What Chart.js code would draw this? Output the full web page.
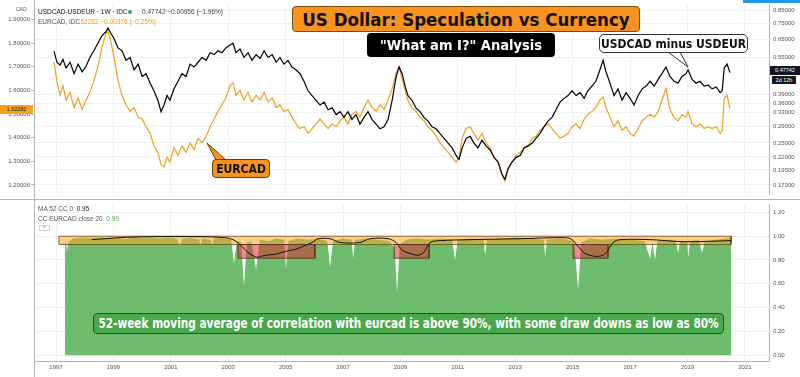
<!DOCTYPE html>
<html>
<head>
<meta charset="utf-8">
<script src="https://cdn.jsdelivr.net/npm/chart.js@4.4.0/dist/chart.umd.min.js"></script>
<style>
body { margin: 0; width: 800px; height: 377px; background: #fff; position: relative; overflow: hidden; font-family: "Liberation Sans", Arial, sans-serif; }
canvas { position: absolute; left: 0; }
#topChart { top: 0; }
#bottomChart { top: 200px; }
.abs { position: absolute; white-space: nowrap; }
.legend { font-size: 6.5px; color: #131722; }
.box { position: absolute; box-sizing: border-box; display: flex; align-items: center; justify-content: center; white-space: nowrap; font-family: "DejaVu Sans Condensed", "DejaVu Sans", sans-serif; font-stretch: condensed; font-weight: bold; overflow: hidden; }
.price { position: absolute; font-size: 5.5px; text-align: center; line-height: 9px; }
#note span { display: inline-block; transform-origin: center; }
</style>
</head>
<body>
<canvas id="topChart" width="800" height="199"></canvas>
<canvas id="bottomChart" width="800" height="177"></canvas>

<div class="abs" style="left:0;top:199px;width:800px;height:1px;background:#b2b5be"></div>
<div class="abs" style="left:34px;top:0;width:1px;height:377px;background:#b2b5be"></div>
<div class="abs" style="left:743px;top:0;width:57px;height:3px;background:#2196f3"></div>

<div class="abs legend" style="left:16px;top:6px;font-size:5px;color:#555">CAD</div>
<div class="abs legend" style="left:38px;top:8px">USDCAD-USDEUR · 1W · IDC</div>
<div class="abs" style="left:128px;top:10px;width:4px;height:4px;border-radius:2px;background:#26a69a"></div>
<div class="abs legend" style="left:142px;top:8px;color:#444">0.47742 −0.00956 (−1.96%)</div>
<div class="abs legend" style="left:38px;top:18px;color:#555">EURCAD, IDC</div>
<div class="abs legend" style="left:75px;top:18px;color:#f39c12">1.52282 −0.00376 (−0.25%)</div>

<div class="abs legend" style="left:38px;top:205px;color:#555">MA 52 CC 0 <span style="color:#131722">&nbsp;0.95</span></div>
<div class="abs legend" style="left:38px;top:215px;color:#555">CC EURCAD close 20 <span style="color:#4caf50">&nbsp;0.99</span></div>
<div class="abs" style="left:39px;top:225px;width:11px;height:6px;border:1px solid #d1d4dc;box-sizing:border-box;font-size:5px;line-height:5px;text-align:center;color:#555">^</div>

<div class="price" style="left:0;top:105px;width:33px;background:#f7a21b;color:#222">1.52282</div>
<div class="price" style="left:770px;top:66px;width:30px;background:#131722;color:#fff">0.47742</div>
<div class="price" style="left:772px;top:76px;width:24px;background:#131722;color:#fff;line-height:8px">2d 12h</div>

<svg class="abs" style="left:0;top:0" width="800" height="377">
  <polygon points="668,52 688,67 680,52" fill="#fff" stroke="#333" stroke-width="1"/>
  <polygon points="216,160 207,143 226,160" fill="#f7931e" stroke="#6b4200" stroke-width="1"/>
</svg>

<div class="box" style="left:292px;top:6px;width:348px;height:26px;background:#f7931e;border:1px solid #7a4a00;border-radius:4px;font-size:18.5px;color:#111">US Dollar: Speculation vs Currency</div>
<div class="box" style="left:367px;top:33px;width:188px;height:24px;background:#000;border-radius:4px;font-size:14.5px;color:#fff">"What am I?" Analysis</div>
<div class="box" style="left:599px;top:34px;width:149px;height:19px;background:#fff;border:1px solid #333;border-radius:5px;font-size:12px;color:#111">USDCAD minus USDEUR</div>
<div class="box" style="left:212px;top:159px;width:58px;height:19px;background:#f7931e;border:1px solid #6b4200;border-radius:4px;font-size:12px;color:#111">EURCAD</div>
<div class="box" id="note" style="left:93px;top:313px;width:631px;height:21px;background:#4aa84c;border:1px solid #1e5a20;border-radius:4px;font-size:13px;color:#fff"><span>52-week moving average of correlation with eurcad is above 90%, with some draw downs as low as 80%</span></div>

<script>
// x axis is in decimal years
const X_MIN = 1996.233;
const X_MAX = 2021.84;
const yearTicks = [1997, 1999, 2001, 2003, 2005, 2007, 2009, 2011, 2013, 2015, 2017, 2019, 2021];

const cadTicks = [1.2, 1.3, 1.4, 1.5, 1.6, 1.7, 1.8, 1.9];
const spreadTicks = [0.17, 0.195, 0.22, 0.25, 0.29, 0.33, 0.36, 0.39, 0.55, 0.65, 0.75, 0.85];
const corrTicks = [0, 0.2, 0.4, 0.6, 0.8, 1.0, 1.2];

// sample dates shared by both price series
const priceDates = [1996.93,1997.03,1997.14,1997.24,1997.35,1997.49,1997.63,1997.77,1997.91,1998.05,1998.18,1998.32,1998.46,1998.60,1998.74,
    1998.81,1998.92,1999.02,
    1999.16,1999.30,1999.44,1999.58,1999.72,1999.86,2000.00,2000.14,2000.28,2000.41,2000.55,
    2000.66,2000.76,2000.87,
    2000.97,2001.11,2001.25,2001.39,2001.53,2001.67,2001.81,2001.95,2002.09,2002.23,2002.37,2002.51,2002.64,2002.78,2002.92,2003.06,
    2003.17,
    2003.27,2003.41,2003.55,2003.69,2003.83,2003.97,2004.11,2004.25,2004.39,2004.53,2004.67,2004.80,2004.94,2005.08,2005.22,2005.36,2005.50,2005.64,2005.78,2005.92,2006.06,2006.20,2006.34,2006.48,2006.62,2006.76,2006.90,2007.03,2007.17,2007.31,2007.45,2007.59,2007.73,2007.87,2008.01,2008.15,2008.29,2008.43,2008.57,2008.71,2008.85,
    2008.95,2009.06,2009.16,
    2009.26,2009.40,2009.54,2009.68,2009.82,2009.96,2010.10,2010.24,2010.38,2010.52,2010.66,2010.80,2010.94,
    2011.04,
    2011.15,2011.29,2011.43,2011.56,2011.70,2011.84,2011.98,2012.12,2012.26,2012.40,2012.54,
    2012.64,
    2012.75,2012.89,2013.03,2013.17,2013.31,2013.45,2013.59,2013.72,2013.86,2014.00,2014.14,2014.28,2014.42,2014.56,2014.70,2014.84,2014.98,2015.12,2015.26,2015.40,2015.53,2015.67,2015.81,2015.95,
    2016.06,
    2016.16,2016.30,2016.44,2016.58,2016.72,2016.86,2017.00,2017.14,2017.28,2017.42,2017.56,2017.70,2017.84,2017.98,2018.11,2018.25,2018.39,2018.53,2018.67,2018.81,2018.95,
    2019.02,
    2019.16,2019.30,2019.44,2019.58,2019.72,2019.86,2020.00,2020.14,
    2020.21,2020.28,2020.38,2020.48];

// USDCAD-USDEUR (right, log scale)
const spreadValues = [0.5840,0.5255,0.5120,0.5397,0.4987,0.5255,0.4732,0.5165,0.4816,0.5075,0.5491,0.5840,0.6262,0.6717,0.6958,
    0.7205,0.6836,0.6543,
    0.5994,0.5840,0.5349,0.5491,0.4902,0.5165,0.4609,0.4732,0.4335,0.4042,0.3703,
    0.3334,0.3544,0.3869,
    0.3703,0.4114,0.4411,0.4732,0.4609,0.5165,0.5030,0.5255,0.5491,0.5349,0.5737,0.5638,0.5840,0.5737,0.5994,0.6155,
    0.6262,
    0.5737,0.5943,0.5491,0.5737,0.5349,0.5638,0.5444,0.5840,0.5491,0.5638,0.5255,0.5491,0.5165,0.5349,0.5030,0.4902,0.4732,0.4411,0.4042,0.3869,0.3703,0.3544,0.3639,0.3392,0.3453,0.3247,0.3334,0.3164,0.3334,0.3108,0.3247,0.2975,0.3164,0.3334,0.3108,0.2975,0.2848,0.2899,0.3108,0.3703,0.4609,
    0.5030,0.4732,0.4222,
    0.3869,0.3703,0.3453,0.3334,0.3164,0.3055,0.2899,0.2848,0.2726,0.2609,0.2497,0.2390,0.2229,
    0.2151,
    0.2390,0.2609,0.2656,0.2497,0.2390,0.2564,0.2433,0.2349,0.2190,0.2097,0.1870,
    0.1791,
    0.1971,0.2097,0.2190,0.2229,0.2390,0.2433,0.2497,0.2609,0.2726,0.2899,0.3055,0.3164,0.3392,0.3639,0.3769,0.3869,0.4042,0.3869,0.3973,0.3769,0.4042,0.4222,0.4411,0.4902,
    0.5349,
    0.4816,0.4335,0.3869,0.4114,0.3703,0.3973,0.3769,0.3544,0.3869,0.4114,0.4222,0.4411,0.4222,0.4490,0.4732,0.5030,0.4609,0.4411,0.4335,0.4609,0.4732,
    0.4902,
    0.4490,0.4335,0.4411,0.4222,0.4260,0.4114,0.4186,0.3973,
    0.4042,0.4987,0.5165,0.47742];

// EURCAD (left scale)
const eurcadValues = [1.7211,1.6403,1.5797,1.6201,1.5595,1.5918,1.5272,1.5676,1.5191,1.5595,1.5918,1.6403,1.7009,1.7817,1.8422,
    1.8503,1.8019,1.7413,
    1.6403,1.5797,1.5393,1.5111,1.5272,1.4868,1.4787,1.4464,1.4182,1.3657,1.3374,
    1.2849,1.2768,1.3172,
    1.2970,1.3576,1.3253,1.3657,1.3374,1.3778,1.3495,1.3980,1.3778,1.4061,1.4464,1.4787,1.5111,1.5393,1.5676,1.6201,
    1.6322,
    1.5797,1.6000,1.5595,1.5918,1.5514,1.5797,1.5595,1.5918,1.5514,1.5676,1.5272,1.5393,1.5111,1.5191,1.4868,1.4585,1.4384,1.4464,1.4182,1.4384,1.4585,1.4787,1.4585,1.4384,1.4585,1.4464,1.4707,1.4868,1.4585,1.4989,1.5111,1.4868,1.5272,1.5595,1.5272,1.5111,1.5393,1.5191,1.5595,1.6080,1.6726,
    1.7009,1.6484,1.6000,
    1.5595,1.5272,1.5111,1.4868,1.4707,1.4464,1.4303,1.4061,1.3778,1.3576,1.3374,1.3172,1.2970,
    1.3172,
    1.3980,1.4384,1.4464,1.4182,1.3899,1.4182,1.3778,1.3576,1.3172,1.2970,1.2445,
    1.2162,
    1.2687,1.2970,1.3253,1.3374,1.3576,1.3657,1.3980,1.4061,1.4303,1.4464,1.4585,1.4384,1.4182,1.3980,1.4061,1.4182,1.4464,1.4585,1.4384,1.4787,1.4989,1.5111,1.5272,1.5595,
    1.5716,
    1.5272,1.4868,1.4464,1.4707,1.4303,1.4464,1.4182,1.4061,1.4384,1.4707,1.4868,1.4989,1.4868,1.5111,1.5595,1.6080,1.5191,1.4868,1.4707,1.4989,1.4868,
    1.5111,
    1.4585,1.4464,1.4585,1.4384,1.4464,1.4384,1.4464,1.4182,
    1.4303,1.5676,1.5797,1.52282];

// CC EURCAD close 20 (20-week correlation)
const corrDates = [1997.31,1997.36,1997.38,1997.42,1997.6,1997.9,1998.2,1998.5,1998.8,1999.1,1999.4,1999.7,2000.0,2000.3,2000.6,2000.9,2001.2,2001.32,2001.4,2001.7,2002.0,2002.02,2002.1,2002.4,2002.44,2002.5,2002.8,2003.1,2003.2,2003.3,2003.45,2003.55,2003.65,2003.8,2003.97,2004.1,2004.4,2004.7,2004.95,2005.01,2005.1,2005.4,2005.8,2006.1,2006.45,2006.55,2006.65,2007.0,2007.3,2007.35,2007.42,2007.8,2008.2,2008.6,2008.8,2008.88,2008.98,2009.2,2009.6,2010.0,2010.4,2010.8,2010.9,2011.0,2011.4,2011.9,2011.95,2012.02,2012.5,2013.0,2013.5,2014.0,2014.04,2014.1,2014.6,2015.05,2015.19,2015.3,2015.6,2016.0,2016.5,2017.0,2017.5,2017.7,2017.78,2017.87,2017.95,2018.3,2018.6,2018.67,2018.75,2019.0,2019.02,2019.1,2019.4,2019.51,2019.6,2020.0,2020.3,2020.52];
const corrValues = [0.96,0.93,0.86,0.95,0.98,0.99,0.985,0.99,0.985,0.99,0.975,0.99,0.985,0.99,0.98,0.99,0.98,0.92,0.98,0.99,0.97,0.92,0.98,0.97,0.92,0.98,0.99,0.97,0.77,0.96,0.95,0.58,0.95,0.96,0.72,0.97,0.96,0.98,0.97,0.72,0.96,0.98,0.97,0.98,0.96,0.74,0.96,0.98,0.97,0.81,0.97,0.98,0.97,0.96,0.90,0.52,0.93,0.97,0.98,0.97,0.98,0.97,0.80,0.97,0.98,0.97,0.84,0.97,0.98,0.99,0.98,0.97,0.82,0.97,0.98,0.96,0.55,0.95,0.98,0.97,0.98,0.97,0.96,0.81,0.95,0.80,0.96,0.97,0.96,0.86,0.96,0.95,0.82,0.96,0.97,0.86,0.96,0.97,0.98,0.99];

// MA 52 of the correlation
const maDates = [1998.25,1999.23,2000.28,2002.02,2002.89,2003.17,2003.41,2003.69,2004.0,2004.28,2004.63,2004.98,2005.33,2005.68,2005.92,2006.13,2006.55,2006.9,2007.59,2007.94,2008.57,2008.85,2009.06,2009.33,2009.61,2009.82,2010.03,2010.38,2011.43,2013.17,2014.73,2014.98,2015.19,2015.43,2015.78,2016.06,2016.23,2016.41,2016.65,2017.70,2018.74,2019.44,2020.52];
const maValues = [0.971,0.988,0.996,0.996,0.988,0.971,0.930,0.864,0.823,0.840,0.848,0.872,0.889,0.922,0.947,0.979,0.979,0.947,0.947,0.979,0.979,0.947,0.881,0.856,0.840,0.864,0.947,0.963,0.971,0.979,0.988,0.971,0.914,0.856,0.831,0.840,0.881,0.947,0.971,0.971,0.955,0.955,0.963];

// 90%+ band and the draw-down zones
const bandRange = [1997.10, 2020.52];
const bandLevels = [1.0, 0.93];
const zoneStarts = [2003.34, 2008.78, 2015.01];
const zoneEnds = [2006.02, 2010.0, 2016.23];
const zoneLevels = [0.93, 0.815];

const toPoints = (xs, ys) => xs.map((x, i) => ({ x: x, y: ys[i] }));
const gridColor = '#eef0f4';
const axisFont = { family: 'Liberation Sans', size: 6 };

function yearAxis(showLabels) {
    return {
        type: 'linear', min: X_MIN, max: X_MAX,
        afterBuildTicks: s => { s.ticks = yearTicks.map(v => ({ value: v })); },
        ticks: { display: showLabels, callback: v => String(v), font: axisFont, color: '#555', padding: 3, maxRotation: 0 },
        grid: { color: gridColor, drawTicks: false },
        border: { display: showLabels, color: '#b2b5be' },
        afterFit: s => { s.height = showLabels ? 16 : 0; }
    };
}

new Chart(document.getElementById('topChart'), {
    type: 'line',
    data: {
        datasets: [{
            label: 'USDCAD-USDEUR',
            data: toPoints(priceDates, spreadValues),
            yAxisID: 'yR',
            borderColor: '#000000',
            borderWidth: 1.2,
            pointRadius: 0,
            tension: 0
        }, {
            label: 'EURCAD',
            data: toPoints(priceDates, eurcadValues),
            yAxisID: 'yL',
            borderColor: '#f2a01e',
            borderWidth: 1.2,
            pointRadius: 0,
            tension: 0
        }]
    },
    options: {
        responsive: false,
        animation: false,
        layout: { padding: 0 },
        plugins: { legend: { display: false }, tooltip: { enabled: false } },
        scales: {
            x: yearAxis(false),
            yL: {
                position: 'left', min: 1.1596, max: 1.9634,
                afterBuildTicks: s => { s.ticks = cadTicks.map(v => ({ value: v })); },
                ticks: { callback: v => v.toFixed(5), font: axisFont, color: '#555', padding: 1 },
                grid: { drawOnChartArea: false, tickLength: 3, color: '#b2b5be' },
                border: { color: '#b2b5be' },
                afterFit: s => { s.width = 34; }
            },
            yR: {
                type: 'logarithmic', position: 'right', min: 0.1557, max: 0.8935,
                afterBuildTicks: s => { s.ticks = spreadTicks.map(v => ({ value: v })); },
                ticks: { callback: v => v.toFixed(5), font: axisFont, color: '#555', padding: 1 },
                grid: { color: gridColor, tickLength: 3 },
                border: { color: '#b2b5be' },
                afterFit: s => { s.width = 31; }
            }
        }
    }
});

const zoneFills = zoneStarts.map((s, i) => ({
    data: [{ x: s, y: zoneLevels[0] }, { x: zoneEnds[i], y: zoneLevels[0] }],
    yAxisID: 'yR', borderWidth: 0, pointRadius: 0,
    backgroundColor: 'rgba(222, 45, 45, 0.55)', fill: { value: zoneLevels[1] }
}));
const zoneOutlines = zoneStarts.map((s, i) => ({
    data: [{ x: s, y: zoneLevels[0] }, { x: zoneEnds[i], y: zoneLevels[0] }, { x: zoneEnds[i], y: zoneLevels[1] }, { x: s, y: zoneLevels[1] }, { x: s, y: zoneLevels[0] }],
    yAxisID: 'yR', borderWidth: 0.8, borderColor: '#5a3020', pointRadius: 0, fill: false
}));

new Chart(document.getElementById('bottomChart'), {
    type: 'line',
    data: {
        datasets: [{
            label: 'MA 52 CC 0',
            data: toPoints(maDates, maValues),
            yAxisID: 'yR', borderColor: '#111', borderWidth: 1, pointRadius: 0, tension: 0.3
        },
        ...zoneOutlines,
        ...zoneFills,
        {
            data: [{ x: bandRange[0], y: bandLevels[0] }, { x: bandRange[1], y: bandLevels[0] }, { x: bandRange[1], y: bandLevels[1] }, { x: bandRange[0], y: bandLevels[1] }, { x: bandRange[0], y: bandLevels[0] }],
            yAxisID: 'yR', borderWidth: 0.8, borderColor: '#6b4a10', pointRadius: 0, fill: false
        }, {
            data: [{ x: bandRange[0], y: bandLevels[0] }, { x: bandRange[1], y: bandLevels[0] }],
            yAxisID: 'yR', borderWidth: 0, pointRadius: 0,
            backgroundColor: 'rgba(248, 165, 45, 0.55)', fill: { value: bandLevels[1] }
        }, {
            label: 'CC EURCAD close 20',
            data: toPoints(corrDates, corrValues),
            yAxisID: 'yR', borderWidth: 0, pointRadius: 0, tension: 0,
            backgroundColor: '#6ebd6e', fill: 'origin'
        }]
    },
    options: {
        responsive: false,
        animation: false,
        layout: { padding: { top: 1 } },
        plugins: { legend: { display: false }, tooltip: { enabled: false } },
        scales: {
            x: yearAxis(true),
            yL: {
                position: 'left', min: -0.0493, max: 1.2658,
                ticks: { display: false },
                grid: { drawOnChartArea: false, drawTicks: false },
                border: { color: '#b2b5be' },
                afterFit: s => { s.width = 34; }
            },
            yR: {
                position: 'right', min: -0.0493, max: 1.2658,
                afterBuildTicks: s => { s.ticks = corrTicks.map(v => ({ value: v })); },
                ticks: { callback: v => v.toFixed(2), font: axisFont, color: '#555', padding: 1 },
                grid: { color: gridColor, tickLength: 3 },
                border: { color: '#b2b5be' },
                afterFit: s => { s.width = 31; }
            }
        }
    }
});

// squeeze the note text to the width of its box
const noteSpan = document.querySelector('#note span');
const noteScale = 620 / noteSpan.offsetWidth;
noteSpan.style.transform = 'scaleX(' + noteScale.toFixed(3) + ') scaleY(1.1)';
</script>
</body>
</html>
